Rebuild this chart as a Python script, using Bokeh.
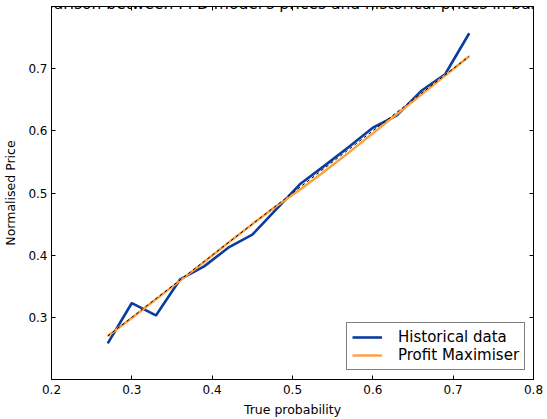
from bokeh.plotting import figure
from bokeh.models import LinearAxis, FixedTicker, Range1d, Label, Legend, LegendItem
from bokeh.embed import file_html
from bokeh.resources import INLINE

# ---- data ----
true_prob = [0.27, 0.30, 0.33, 0.36, 0.39, 0.42, 0.45, 0.48, 0.51, 0.54, 0.57, 0.60, 0.63, 0.66, 0.69, 0.72]
historical = [0.258, 0.323, 0.303, 0.361, 0.382, 0.412, 0.433, 0.474, 0.515, 0.544, 0.574, 0.605, 0.625, 0.664, 0.691, 0.757]
profit_max = [0.270, 0.299, 0.329, 0.359, 0.389, 0.420, 0.450, 0.479, 0.506, 0.535, 0.565, 0.596, 0.627, 0.658, 0.689, 0.720]
ideal_x = [0.27, 0.72]
ideal_y = [0.27, 0.72]
x_ticks = [0.2, 0.3, 0.4, 0.5, 0.6, 0.7, 0.8]
y_ticks = [0.3, 0.4, 0.5, 0.6, 0.7]
title_text = "Comparison between PPD model's prices and historical prices in basketball"

FONT = "DejaVu Sans"

p = figure(width=547, height=419, output_backend="svg", toolbar_location=None,
           x_range=Range1d(0.2, 0.8), y_range=Range1d(0.2, 0.8),
           min_border_left=50, min_border_right=14, min_border_top=6, min_border_bottom=39,
           x_axis_label="True probability", y_axis_label="Normalised Price")
p.margin = (0, 0, 0, 0)
p.xgrid.visible = False
p.ygrid.visible = False
p.outline_line_color = "black"
p.outline_line_width = 1
p.background_fill_color = "white"
p.border_fill_color = "white"

top = LinearAxis()
right = LinearAxis()
p.add_layout(top, "above")
p.add_layout(right, "right")

for ax in p.xaxis:
    ax.ticker = FixedTicker(ticks=x_ticks)
for ax in p.yaxis:
    ax.ticker = FixedTicker(ticks=y_ticks)

for ax in p.axis:
    ax.axis_line_color = "black"
    ax.major_tick_line_color = "black"
    ax.major_tick_in = 4
    ax.major_tick_out = 0
    ax.minor_tick_line_color = None
    ax.major_label_text_font = FONT
    ax.major_label_text_font_size = "12px"
    ax.major_label_text_color = "black"
    ax.axis_label_text_font = FONT
    ax.axis_label_text_font_size = "12.5px"
    ax.axis_label_text_font_style = "normal"
    ax.axis_label_text_color = "black"

for ax in (top, right):
    ax.major_label_text_font_size = "1px"
    ax.major_label_text_color = None
    ax.major_label_standoff = 0

p.xaxis[0].major_label_standoff = 6
p.xaxis[0].axis_label_standoff = 4
p.yaxis[0].major_label_standoff = 4
p.yaxis[0].axis_label_standoff = 7

r_hist = p.line(true_prob, historical, line_color="#0b3d9e", line_width=2.6)
r_prof = p.line(true_prob, profit_max, line_color="#ff9e3d", line_width=2.4)
p.line(ideal_x, ideal_y, line_color="black", line_width=1, line_dash="3 3")

legend = Legend(items=[LegendItem(label="Historical data", renderers=[r_hist]),
                       LegendItem(label="Profit Maximiser", renderers=[r_prof])],
                location=(295, 9))
legend.label_text_font = FONT
legend.label_text_font_size = "15px"
legend.label_text_color = "black"
legend.glyph_width = 30
legend.glyph_height = 14
legend.label_height = 14
legend.label_standoff = 16
legend.padding = 5
legend.spacing = 0
legend.margin = 0
legend.border_line_color = "black"
legend.border_line_width = 1
legend.background_fill_alpha = 1
p.add_layout(legend, "center")

title = Label(x=0.1466, y=0.8048, text=title_text, text_align="left", text_baseline="alphabetic",
              text_font=FONT, text_font_size="15.5px", text_color="black")
p.add_layout(title)

open("out.html", "w").write(file_html(p, INLINE))
